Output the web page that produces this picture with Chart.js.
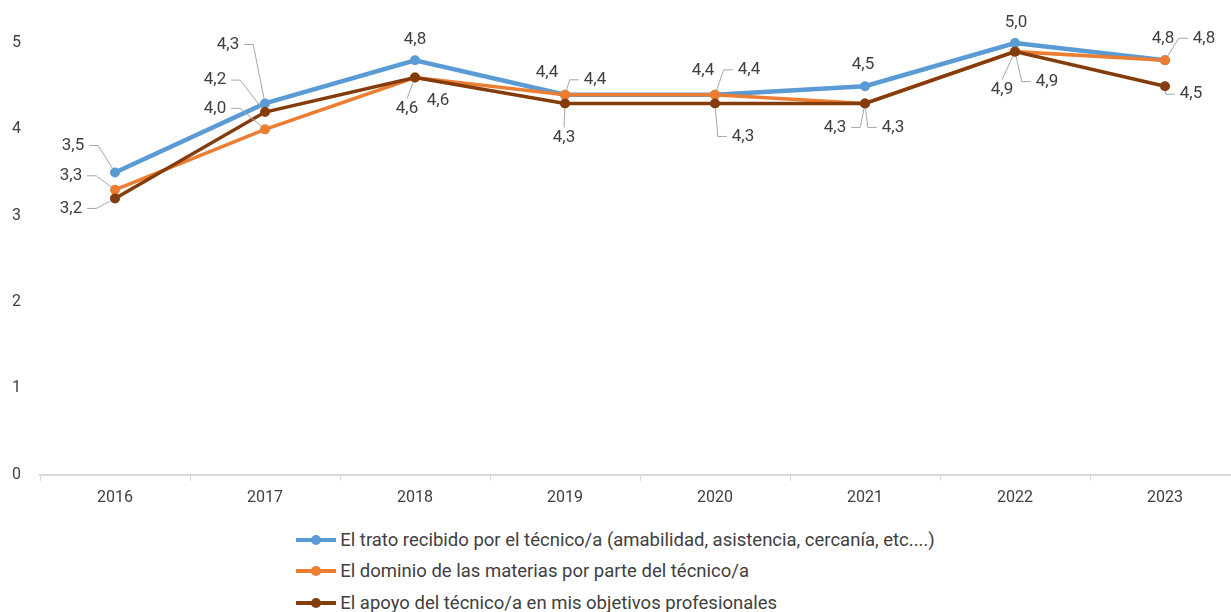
<!DOCTYPE html>
<html lang="es">
<head>
<meta charset="utf-8">
<title>Valoración del técnico/a</title>
<script src="https://cdn.jsdelivr.net/npm/chart.js@4.4.1/dist/chart.umd.min.js"></script>
<style>
  html, body { margin: 0; padding: 0; background: #fff; }
  body { width: 1231px; height: 612px; overflow: hidden; font-family: Roboto, "Noto Sans", sans-serif; position: relative; }
  .lienzo { position: relative; width: 1231px; height: 516px; overflow: hidden; }
  #grafico { display: block; }
  #leyenda { position: absolute; left: 0; top: 524px; width: 1231px; text-align: center; }
  #leyenda .bloque { display: inline-block; text-align: left; }
  #leyenda .item { display: flex; align-items: center; height: 31.5px; font-size: 18.5px; color: #404040; white-space: nowrap; }
  #leyenda .marca { position: relative; width: 40px; height: 4px; margin-right: 4px; }
  #leyenda .punto { position: absolute; left: 15px; top: -3px; width: 10px; height: 10px; border-radius: 50%; }
</style>
</head>
<body>
<div class="lienzo">
  <canvas id="grafico" width="1250" height="516"></canvas>
</div>
<div id="leyenda"><div class="bloque"></div></div>

<script>
// Años de la encuesta
const anios = ['2016', '2017', '2018', '2019', '2020', '2021', '2022', '2023'];

// Valoración media (escala 0-5) de cada aspecto
const trato   = [3.5, 4.3, 4.8, 4.4, 4.4, 4.5, 5.0, 4.8];
const dominio = [3.3, 4.0, 4.6, 4.4, 4.4, 4.3, 4.9, 4.8];
const apoyo   = [3.2, 4.2, 4.6, 4.3, 4.3, 4.3, 4.9, 4.5];

const nombres = [
    'El trato recibido por el técnico/a (amabilidad, asistencia, cercanía, etc....)',
    'El dominio de las materias por parte del técnico/a',
    'El apoyo del técnico/a en mis objetivos profesionales'
];
const colores = ['#5b9bd5', '#ed7d31', '#843c0c'];

// Desplazamiento de cada etiqueta respecto a su punto [dx, dy, línea guía]
const posEtiquetas = [
    [[-42, -27, 1], [-37, -59, 1], [0, -21, 0], [-18, -22, 0], [-12, -24, 0], [-2, -21, 0], [1, -20, 0], [-2, -22, 0]],
    [[-44, -14, 1], [-50, -21, 1], [23, 23, 0], [30, -15, 1], [34, -25, 1], [-30, 24, 1], [32, 30, 1], [39, -22, 1]],
    [[-44, 10, 1], [-50, -32, 1], [-8, 31, 1], [-1, 34, 1], [28, 33, 1], [28, 24, 1], [-13, 38, 1], [26, 8, 1]]
];

const fuente = 'Roboto, "Noto Sans", sans-serif';

// Línea guía gris desde la etiqueta hasta el punto
function dibujarGuia(ctx, px, py, lx, ly, w, h) {
    let pts;
    if (Math.abs(lx - px) > w / 2 + 4) {
        const lado = lx > px ? -1 : 1;
        const x0 = lx + lado * (w / 2 + 5);
        const x1 = x0 + lado * 9;
        pts = [[x0, ly], [x1, ly]];
    } else {
        const lado = ly > py ? -1 : 1;
        pts = [[lx, ly + lado * (h / 2 + 3)]];
    }
    // acortar el tramo final para que no pise el marcador
    const [ax, ay] = pts[pts.length - 1];
    const d = Math.hypot(px - ax, py - ay);
    const r = 5;
    const ex = d > r ? px - (px - ax) * r / d : ax;
    const ey = d > r ? py - (py - ay) * r / d : ay;

    ctx.beginPath();
    ctx.moveTo(pts[0][0], pts[0][1]);
    for (let k = 1; k < pts.length; k++) ctx.lineTo(pts[k][0], pts[k][1]);
    ctx.lineTo(ex, ey);
    ctx.stroke();
}

const etiquetasPlugin = {
    id: 'etiquetas',
    afterDatasetsDraw(chart) {
        const ctx = chart.ctx;
        ctx.save();
        ctx.font = '17px ' + fuente;
        ctx.textAlign = 'center';
        ctx.textBaseline = 'middle';
        ctx.strokeStyle = '#a6a6a6';
        ctx.lineWidth = 1;

        chart.data.datasets.forEach((ds, i) => {
            const meta = chart.getDatasetMeta(i);
            meta.data.forEach((pt, j) => {
                const [dx, dy, guia] = posEtiquetas[i][j];
                const texto = ds.data[j].toFixed(1).replace('.', ',');
                const lx = pt.x + dx;
                const ly = pt.y + dy;
                const w = ctx.measureText(texto).width;
                if (guia) dibujarGuia(ctx, pt.x, pt.y, lx, ly, w, 14);
                ctx.fillStyle = '#404040';
                ctx.fillText(texto, lx, ly);
            });
        });
        ctx.restore();
    }
};

const series = [trato, dominio, apoyo];
const datasets = series.map((valores, i) => ({
    label: nombres[i],
    data: valores,
    borderColor: colores[i],
    backgroundColor: colores[i],
    borderWidth: i === 0 ? 4.5 : 3.5,
    pointRadius: 5,
    pointBorderWidth: 0,
    pointBackgroundColor: colores[i],
    tension: 0,
    clip: false,
    order: 3 - i
}));

const chart = new Chart(document.getElementById('grafico'), {
    type: 'line',
    data: { labels: anios, datasets: datasets },
    options: {
        responsive: false,
        animation: false,
        layout: { padding: { left: 12, right: 10, top: 43, bottom: 0 } },
        scales: {
            x: {
                offset: true,
                grid: { display: true, drawOnChartArea: false, drawTicks: true, tickLength: 6, color: '#d9d9d9', offset: true },
                border: { display: true, color: '#d9d9d9', width: 2 },
                ticks: { color: '#404040', font: { family: fuente, size: 16 }, padding: 8 }
            },
            y: {
                min: 0,
                max: 5,
                grid: { display: false, drawTicks: false },
                border: { display: false },
                ticks: { stepSize: 1, color: '#404040', font: { family: fuente, size: 16 }, padding: 19 },
                afterFit(scale) { scale.width = 28; }
            }
        },
        plugins: {
            legend: { display: false },
            tooltip: { enabled: false }
        }
    },
    plugins: [etiquetasPlugin]
});

// Leyenda en filas, una serie por línea
const bloque = document.querySelector('#leyenda .bloque');
chart.data.datasets.forEach(ds => {
    const item = document.createElement('div');
    item.className = 'item';
    item.innerHTML = `<span class="marca" style="background:${ds.borderColor}"><span class="punto" style="background:${ds.borderColor}"></span></span><span>${ds.label}</span>`;
    bloque.appendChild(item);
});
</script>
</body>
</html>
